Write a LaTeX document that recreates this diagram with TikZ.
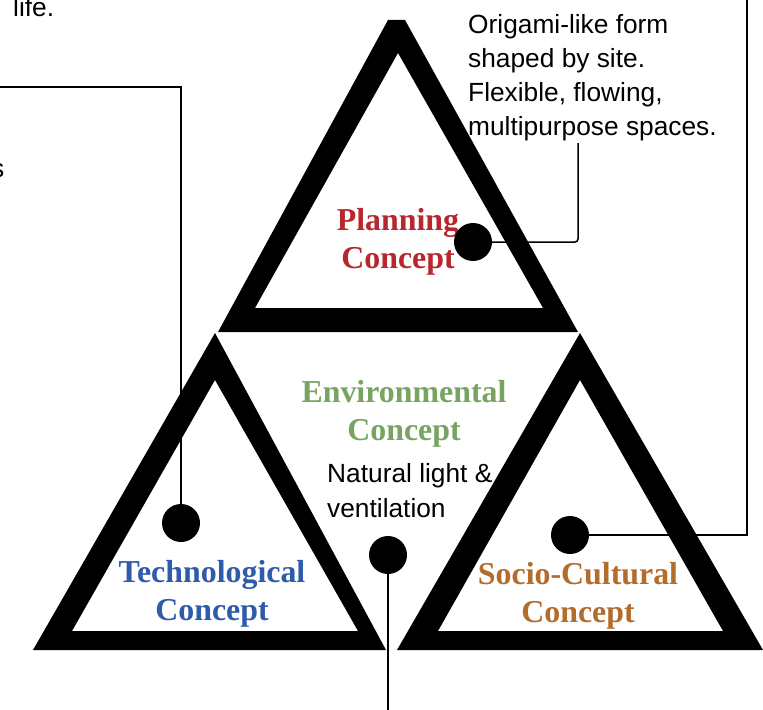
\documentclass[tikz,border=0pt]{standalone}
\usepackage{fontspec}
\setmainfont{Liberation Serif}
\newfontfamily\arialfont{Liberation Sans}
\definecolor{planred}{HTML}{B8262E}
\definecolor{envgreen}{HTML}{78A462}
\definecolor{techblue}{HTML}{2F5CAA}
\definecolor{socbrown}{HTML}{B26C2C}
\begin{document}
\begin{tikzpicture}[x=1bp,y=-1bp,
  tri/.style={fill=black,even odd rule},
  dot/.style={circle,fill=black,inner sep=0pt,minimum size=38bp},
  conn/.style={draw=black,line width=1.5bp},
  concept/.style={font=\bfseries\fontsize{32}{38}\selectfont,align=center,anchor=base,inner sep=0pt},
  note/.style={font=\arialfont\fontsize{26.4}{34.3}\selectfont,align=left,anchor=base west,inner sep=0pt}]
\useasboundingbox (0,0) rectangle (763,710);
\clip (0,0) rectangle (763,710);
\fill[white] (0,0) rectangle (763,710);
% triangles
\fill[tri] (388,20) -- (405,20) -- (578,332) -- (218,332) -- cycle
           (398,53) -- (543,308) -- (255,308) -- cycle;
\fill[tri] (215,333) -- (386,650) -- (33,650) -- cycle
           (215,380) -- (358,631) -- (72,631) -- cycle;
\fill[tri] (580,333) -- (763,650) -- (397,650) -- cycle
           (580,380) -- (723,631) -- (438,631) -- cycle;
% concept labels (base = baseline of last line)
\node[concept,text=planred] (plan) at (398,268) {Planning\\Concept};
\node[concept,text=envgreen] (env) at (404,440) {Environmental\\Concept};
\node[concept,text=techblue] (tech) at (212,620) {Technological\\Concept};
\node[concept,text=socbrown] (soc) at (578,622) {Socio-Cultural\\Concept};
% notes
\node[note] (plannote) at (468,136) {Origami-like form\\shaped by site.\\Flexible, flowing,\\multipurpose spaces.};
\node[note] (envnote) at (327,517) {Natural light \&\\ventilation};
\node[note] (lifenote) at (13,17) {life.};
\node[note,anchor=base east] (snote) at (4.5,177) {s};
% dots
\node[dot] (pdot) at (473,242) {};
\node[dot] (tdot) at (181,523) {};
\node[dot] (edot) at (388,555) {};
\node[dot] (sdot) at (570,535) {};
% connector ends
\coordinate (pc) at (578,143);
\coordinate (tc) at (-5,87);
\coordinate (ec) at (388,715);
\coordinate (sc) at (747,-5);
% connectors
\draw[conn,rounded corners=3bp] (pdot.east) -| (pc);
\draw[conn] (tdot.north) |- (tc);
\draw[conn] (edot.south) -- (ec);
\draw[conn] (sdot.east) -| (sc);
\end{tikzpicture}
\end{document}
